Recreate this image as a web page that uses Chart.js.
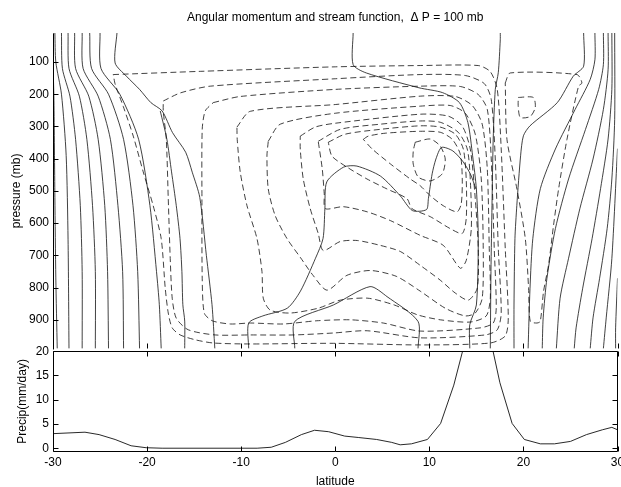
<!DOCTYPE html>
<html><head><meta charset="utf-8">
<script src="https://cdn.jsdelivr.net/npm/chart.js@4/dist/chart.umd.min.js"></script>
<style>
html,body{margin:0;padding:0;background:#fff;overflow:hidden;width:621px;height:487px}
#wrap{position:relative;width:621px;height:487px;overflow:hidden}
canvas{position:absolute;left:0}
</style></head><body>
<div id="wrap">
<canvas id="topc" width="630" height="360" style="top:0"></canvas>
<canvas id="botc" width="630" height="148" style="top:340px"></canvas>
</div>
<script>
// ---------- axis ticks ----------
const pressureTicks = [100,200,300,400,500,600,700,800,900];
const precipTicks = [0,5,10,15,20];
const latTicks = [-30,-20,-10,0,10,20,30];

// ---------- precipitation (mm/day) ----------
const precipLat = [-30,-26.6,-25.1,-23.4,-21.7,-20.1,-18.4,-8.3,-6.8,-5.3,-3.6,-2.2,-0.7,1.0,2.5,4.4,6.0,6.9,8.1,9.8,11.2,12.6,14.0,15.4,16.1,17.5,18.8,20.1,21.8,23.3,25.0,26.7,28.4,29.4,30];
const precipVal = [3.0,3.3,2.8,1.8,0.5,0.1,0,0,0.2,1.2,2.8,3.7,3.4,2.5,2.2,1.8,1.2,0.7,0.9,1.8,5.1,13.0,23.5,30,26,13.5,5.1,1.8,0.9,0.9,1.4,2.8,3.8,4.3,3.8];

// ---------- angular momentum contours [lat, p(mb)] (solid) ----------
const momentumLeft = [
 [[-30,10],[-30,90],[-29.9,220],[-29.8,520],[-29.7,770],[-29.55,989]],
 [[-29.8,10],[-29.7,100],[-29.1,200],[-28.6,390],[-28.4,650],[-28.3,989]],
 [[-29.1,10],[-29.0,120],[-28.2,206],[-27.6,340],[-27.1,545],[-26.9,750],[-26.9,989]],
 [[-28.4,10],[-28.3,120],[-27.2,206],[-26.4,340],[-25.8,545],[-25.5,750],[-25.5,989]],
 [[-27.7,10],[-27.6,120],[-26.2,206],[-25.2,340],[-24.5,545],[-24.2,750],[-24.1,989]],
 [[-26.9,10],[-26.8,120],[-25.2,206],[-23.9,340],[-23.1,545],[-22.6,750],[-22.5,989]],
 [[-26.1,10],[-25.9,120],[-24.1,200],[-22.5,340],[-21.5,545],[-21.0,750],[-20.8,989]],
 [[-25.0,10],[-24.9,120],[-22.9,200],[-20.9,340],[-19.7,545],[-19.0,750],[-18.7,853],[-18.5,989]],
 [[-23.2,10],[-23.4,103],[-22.2,144],[-20.8,185],[-19.6,226],[-18.4,252],[-17.3,319],[-15.9,380],[-15.2,442],[-14.4,520],[-13.7,700],[-13.1,853],[-12.8,989]],
 [[-18.6,252],[-17.9,339],[-17.4,441],[-16.9,545],[-16.5,648],[-16.3,750],[-16.2,853],[-16.0,904],[-16.0,989]]
];
const momentumMid = [
 [[1.9,10],[1.9,108],[3.3,134],[8.9,180],[11.4,195],[13.2,226],[14.1,288],[14.6,391],[15.0,494],[15.2,648],[15.0,854],[14.3,915],[14.3,989]],
 [[-9.2,989],[-9.2,910],[-7.7,888],[-5.1,864],[-3.7,811],[-2.1,709],[-1.3,648],[-1.1,555],[-0.9,472],[0.9,426],[2.3,423],[4.8,454],[6.9,515],[8.2,561],[9.7,558],[9.9,524],[10.3,447],[10.7,401],[11.3,365],[12.5,376],[13.6,410],[14.4,450],[14.95,494]],
 [[-4.3,989],[-4.3,905],[-0.2,854],[3.7,797],[5.5,828],[8.8,905],[8.8,989]],
 [[17.54,10],[17.54,31],[17.33,133],[17.01,185],[16.79,339],[16.66,545],[16.55,750],[16.48,989]]
];
const momentumRight = [
 [[26.4,10],[26.4,113],[25.3,144],[23.6,226],[20.7,298],[20.0,329],[19.7,391],[19.3,545],[19.1,648],[19.0,854],[19.0,989]],
 [[27.6,10],[27.6,93],[27.1,154],[25.5,247],[23.4,370],[21.8,493],[21.0,648],[20.7,802],[20.5,989]],
 [[28.5,10],[28.5,108],[28.0,185],[26.6,309],[24.8,463],[23.4,617],[22.5,771],[22.1,894],[22.0,989]],
 [[29.0,10],[29.0,124],[28.5,247],[27.4,401],[26.0,555],[24.8,709],[23.9,833],[23.5,989]],
 [[29.4,10],[29.4,185],[29.0,339],[28.2,493],[27.3,648],[26.3,802],[25.6,925],[25.4,989]],
 [[29.7,10],[29.7,278],[29.4,463],[28.9,617],[28.1,771],[27.4,894],[27.1,989]],
 [[30,369],[29.4,710],[28.8,894],[28.5,989]],
 [[30,771],[29.8,925],[29.8,989]]
];

// ---------- stream function contours [lat, p(mb)] (dashed) ----------
const streamMain = [
 [[-23.6,139],[-14.35,129],[0,115],[9.03,111],[15.2,111],[16.48,130],[17.22,185],[17.64,370],[18.07,679],[18.39,895],[18.07,950],[16.48,972],[9.03,978],[-0.21,973],[-9.03,975],[-12.97,972],[-14.88,962],[-16.48,947],[-17.33,925],[-17.75,879],[-18.07,802],[-18.5,648],[-19.35,546],[-20.41,441],[-21.47,330],[-22.53,238],[-23.38,170],[-23.6,139]],
 [[-18.28,221],[-16.47,196],[-13.29,175],[0,152],[9.03,139],[13.82,142],[15.84,167],[16.58,216],[17.01,401],[17.33,679],[17.64,879],[17.22,931],[15.94,947],[9.03,956],[3.4,934],[-0.21,941],[-4.46,947],[-9.03,947],[-12.76,947],[-15.62,931],[-16.9,895],[-17.33,833],[-17.54,710],[-17.75,524],[-17.96,339],[-18.28,253],[-18.28,221]],
 [[-12.97,226],[-10.1,207],[0,185],[9.03,175],[13.29,176],[15.2,201],[16.16,247],[16.58,401],[16.9,679],[17.11,864],[16.79,910],[15.41,925],[9.03,935],[5.1,910],[1.59,900],[-1.95,903],[-5.53,913],[-9.03,910],[-11.16,913],[-13.07,903],[-13.92,879],[-14.14,771],[-14.17,524],[-14.14,309],[-13.82,252],[-12.97,226]],
 [[-10.45,302],[-9.03,253],[0,232],[9.03,206],[12.76,207],[14.56,235],[15.62,293],[16.16,432],[16.37,679],[16.48,833],[16.05,888],[14.35,907],[11.16,900],[8.78,885],[6.27,854],[3.47,833],[0.53,839],[-1.81,864],[-4.78,879],[-6.91,870],[-7.65,833],[-7.79,750],[-8.32,648],[-9.38,546],[-10.1,441],[-10.42,340],[-10.45,302]],
 [[-7.12,346],[-5.85,293],[0,259],[9.03,237],[12.22,235],[13.82,259],[14.88,324],[15.52,463],[15.73,679],[15.62,833],[14.88,879],[13.82,888],[11.69,864],[9.03,811],[6.48,765],[3.72,747],[1.24,762],[-0.88,808],[-2.44,759],[-3.72,706],[-5.13,648],[-6.38,577],[-7.12,494],[-7.26,392],[-7.12,346]],
 [[-3.72,330],[-2.13,302],[0,290],[9.03,262],[12.01,268],[13.5,299],[14.35,370],[14.88,524],[15.2,679],[15.09,802],[14.14,839],[12.76,817],[11.16,777],[9.03,731],[6.91,688],[4.78,669],[2.34,654],[0.53,657],[-1.28,685],[-1.81,632],[-2.66,555],[-3.4,463],[-3.72,370],[-3.72,330]],
 [[-1.81,346],[0.53,309],[4.78,293],[9.03,283],[11.16,287],[13.07,318],[14.03,370],[14.35,463],[14.46,617],[13.92,716],[13.29,740],[11.48,669],[9.03,638],[5.85,592],[3.4,565],[0.85,549],[-1.06,555],[-1.17,509],[-1.38,432],[-1.81,346]],
 [[-0.74,349],[1.06,324],[4.78,309],[9.03,298],[11.16,302],[12.76,324],[13.61,370],[13.92,463],[13.92,586],[13.5,632],[12.22,617],[10.1,580],[8.15,555],[7.62,524],[5.5,494],[3.37,463],[1.24,426],[-0.35,392],[-0.74,349]],
 [[2.98,340],[3.51,330],[5.31,321],[9.03,315],[11.16,318],[12.44,340],[13.29,386],[13.5,463],[13.39,540],[12.94,565],[11.48,546],[10.1,515],[9.03,484],[7.97,463],[5.85,416],[3.93,370],[2.98,340]],
 [[8.5,349],[10.1,339],[11.16,361],[11.69,401],[11.37,447],[10.1,469],[8.82,457],[8.29,417],[8.29,377],[8.5,349]]
];
const streamRight = [
 [[18.07,165],[18.6,134],[25.69,139],[26.22,165],[25.86,175],[24.63,340],[23.74,494],[23.2,607],[22.67,730],[22.14,812],[21.79,905],[21.44,910],[20.73,905],[20.55,802],[20.2,648],[19.31,494],[18.25,340],[18.07,165]],
 [[19.45,210],[21.05,210],[21.26,241],[20.73,269],[19.67,272],[19.45,238],[19.45,210]]
];

// ---------- build datasets ----------
function lineSet(pts, dashed){
  return {
    data: pts.map(([lat,p]) => ({x: lat, y: p})),
    showLine: true, pointRadius: 0, borderColor: '#111', borderWidth: 0.8,
    borderDash: dashed ? [6,3.5] : [], tension: 0.25, fill: false
  };
}
const topSets = [];
[momentumLeft, momentumMid, momentumRight].forEach(g => g.forEach(c => topSets.push(lineSet(c,false))));
[streamMain, streamRight].forEach(g => g.forEach(c => topSets.push(lineSet(c,true))));

const FONT = {family: '"Liberation Sans", Arial, Helvetica, sans-serif', size: 12};

// frame / inward tick plugin (MATLAB style)
const frameTicks = {
  id: 'frameTicks',
  afterDraw(chart, args, o) {
    const {ctx, chartArea: a, scales} = chart;
    const L = Math.round(a.left)+0.5, R = Math.round(a.right)-0.5, T = Math.round(a.top)+0.5, B = Math.round(a.bottom)-0.5;
    ctx.save();
    ctx.strokeStyle = '#000'; ctx.lineWidth = 1;
    ctx.beginPath();
    if (o.full) { ctx.rect(L, T, R-L, B-T); }
    else { ctx.moveTo(L, T); ctx.lineTo(L, B+1); }
    (o.yTicks||[]).forEach(v => {
      const y = Math.round(scales.y.getPixelForValue(v))+0.5;
      ctx.moveTo(L, y); ctx.lineTo(L+5, y);
      if (o.full) { ctx.moveTo(R, y); ctx.lineTo(R-5, y); }
    });
    (o.xTicks||[]).forEach(v => {
      const x = Math.round(scales.x.getPixelForValue(v))+0.5;
      if (o.full) { ctx.moveTo(x, T); ctx.lineTo(x, T+5); ctx.moveTo(x, B); ctx.lineTo(x, B-5); }
      else { ctx.moveTo(x, B); ctx.lineTo(x, B-5); }
    });
    ctx.stroke();
    ctx.restore();
  }
};

const noGrid = {display: false, drawTicks: false, tickLength: 0};

new Chart(document.getElementById('topc'), {
  type: 'scatter',
  data: {datasets: topSets},
  options: {
    responsive: false, animation: false, events: [],
    layout: {padding: {left: 0, right: 12.5, top: 0, bottom: 9.5}},
    plugins: {
      legend: {display: false}, tooltip: {enabled: false},
      title: {display: true, fullSize: false, text: 'Angular momentum and stream function,  \u0394 P = 100 mb',
              color: '#000', font: {...FONT, weight: 'normal'}, padding: {top: 10.8, bottom: 7.8}},
      frameTicks: {full: false, yTicks: pressureTicks, xTicks: latTicks}
    },
    scales: {
      x: {type: 'linear', min: -30, max: 30, display: false},
      y: {type: 'linear', reverse: true, min: 10, max: 990,
          afterBuildTicks: s => { s.ticks = pressureTicks.map(v => ({value: v})); },
          afterFit: s => { s.width = 53; },
          grid: noGrid, border: {display: false},
          ticks: {color: '#000', font: FONT, padding: 4},
          title: {display: true, text: 'pressure (mb)', color: '#000', font: FONT, padding: {top: 9, bottom: 0}}}
    }
  },
  plugins: [frameTicks]
});

new Chart(document.getElementById('botc'), {
  type: 'scatter',
  data: {datasets: [{
    data: precipLat.map((v,i) => ({x: v, y: precipVal[i]})),
    showLine: true, pointRadius: 0, borderColor: '#111', borderWidth: 0.9, tension: 0, fill: false
  }]},
  options: {
    responsive: false, animation: false, events: [],
    layout: {padding: {left: 0, right: 12.5, top: 10.5, bottom: 0}},
    plugins: {legend: {display: false}, tooltip: {enabled: false},
              frameTicks: {full: true, yTicks: precipTicks, xTicks: latTicks}},
    scales: {
      x: {type: 'linear', min: -30, max: 30,
          afterBuildTicks: s => { s.ticks = latTicks.map(v => ({value: v})); },
          grid: noGrid, border: {display: false},
          ticks: {color: '#000', font: FONT, padding: 4, maxRotation: 0},
          title: {display: true, text: 'latitude', color: '#000', font: {...FONT, lineHeight: 1}, padding: {top: 2, bottom: 0}}},
      y: {type: 'linear', min: -0.7, max: 20,
          afterBuildTicks: s => { s.ticks = precipTicks.map(v => ({value: v})); },
          afterFit: s => { s.width = 53; },
          grid: noGrid, border: {display: false},
          ticks: {color: '#000', font: FONT, padding: 4},
          title: {display: true, text: 'Precip(mm/day)', color: '#000', font: FONT, padding: {top: 15.5, bottom: 0}}}
    }
  },
  plugins: [frameTicks]
});
</script>
</body></html>
